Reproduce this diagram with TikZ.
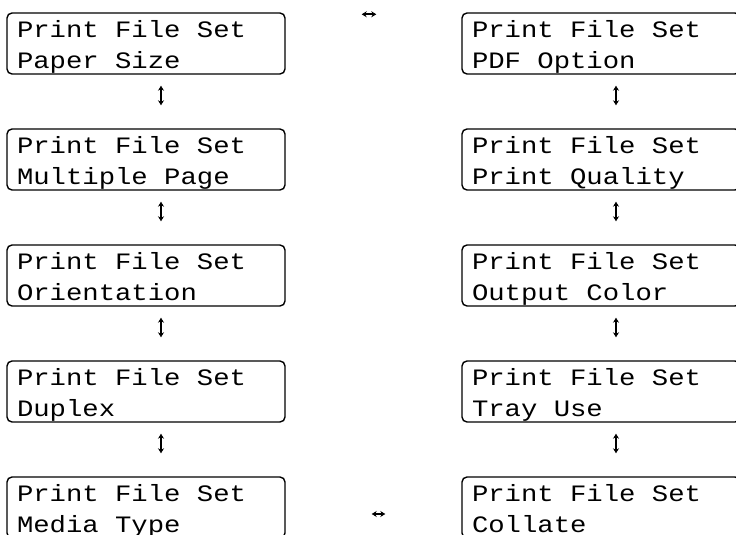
\documentclass[tikz,border=0pt]{standalone}
\usepackage{fontspec}
\newfontfamily\lcdfont[FakeStretch=1.16]{Liberation Mono}
\usetikzlibrary{arrows.meta,positioning}
\begin{document}
\begin{tikzpicture}[x=1pt,y=-1pt,>={Stealth[length=5pt,width=6pt]},
lcd/.style={draw,line width=1.4pt,rounded corners=5pt,inner xsep=10pt,inner ysep=0pt,text width=258pt,minimum height=61pt,align=left,font=\lcdfont\fontsize{23.5}{30.6}\selectfont,
  execute at begin node={\spaceskip=16.36pt\relax\rule{0pt}{24.7pt}},execute at end node={\rule[-5.7pt]{0pt}{5.7pt}}},
updown/.style={<->,line width=1.6pt,shorten <=11pt,shorten >=23pt}]
\clip(0,0)rectangle(736,535);
% left column
\node[lcd](paper)at(146,43.5){Print File Set\\Paper Size};
\node[lcd](multi)at(146,159.5){Print File Set\\Multiple Page};
\node[lcd](orient)at(146,275.5){Print File Set\\Orientation};
\node[lcd](duplex)at(146,391.5){Print File Set\\Duplex};
\node[lcd](media)at(146,507.5){Print File Set\\Media Type};
% right column
\node[lcd](pdf)at(601,43.5){Print File Set\\PDF Option};
\node[lcd](quality)at(601,159.5){Print File Set\\Print Quality};
\node[lcd](color)at(601,275.5){Print File Set\\Output Color};
\node[lcd](tray)at(601,391.5){Print File Set\\Tray Use};
\node[lcd](collate)at(601,507.5){Print File Set\\Collate};
% up/down keys
\draw[updown]([xshift=15pt]paper.south)--([xshift=15pt]multi.north);
\draw[updown]([xshift=15pt]multi.south)--([xshift=15pt]orient.north);
\draw[updown]([xshift=15pt]orient.south)--([xshift=15pt]duplex.north);
\draw[updown]([xshift=15pt]duplex.south)--([xshift=15pt]media.north);
\draw[updown]([xshift=15pt]pdf.south)--([xshift=15pt]quality.north);
\draw[updown]([xshift=15pt]quality.south)--([xshift=15pt]color.north);
\draw[updown]([xshift=15pt]color.south)--([xshift=15pt]tray.north);
\draw[updown]([xshift=15pt]tray.south)--([xshift=15pt]collate.north);
% left/right
\draw[<->,line width=1.6pt,shorten <=76pt,shorten >=85pt]([yshift=-2pt]paper.north east)--([yshift=-2pt]pdf.north west);
\draw[<->,line width=1.6pt,shorten <=86pt,shorten >=76pt]([yshift=-6.5pt]media.east)--([yshift=-6.5pt]collate.west);
\end{tikzpicture}
\end{document}
